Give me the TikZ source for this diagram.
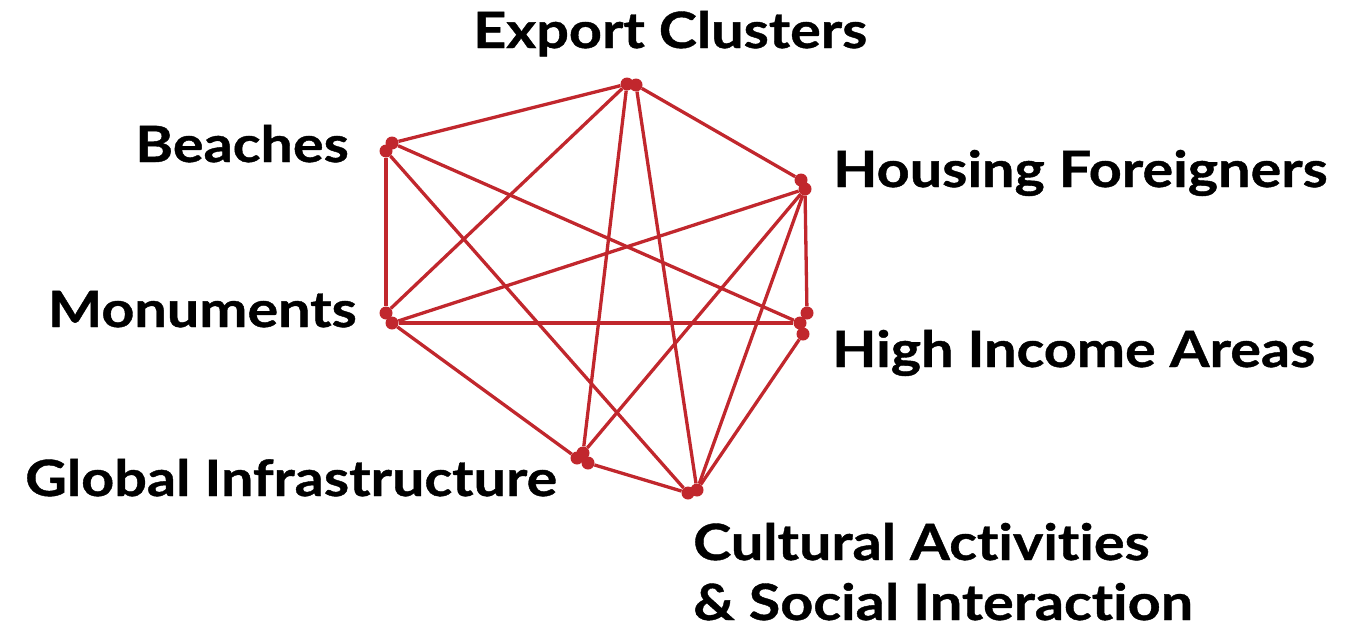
\documentclass[tikz,border=0pt]{standalone}
\usepackage{fontspec}
\setmainfont{Lato}[Ligatures=NoCommon,FakeStretch=1.15,BoldFeatures={FakeBold=0.8}]
\usepackage{tikz}
\usetikzlibrary{positioning}
\definecolor{linkred}{RGB}{193,39,45}

\begin{document}
\begin{tikzpicture}[x=1pt,y=-1pt,
	dot/.style={circle,fill=linkred,inner sep=0pt,minimum size=13pt},
	link/.style={draw=linkred,line width=3.3pt},
	lbl/.style={font=\fontsize{50}{58}\selectfont\bfseries,inner sep=0pt}]

	\useasboundingbox (0,0) rectangle (1345,632);

	% end points: every vertex is a small cluster of dots
	\node[dot] (E1) at (627,84) {};
	\node[dot] (E2) at (636,85) {};
	\node[dot] (B1) at (392,143) {};
	\node[dot] (B2) at (386,151) {};
	\node[dot] (H1) at (801,180) {};
	\node[dot] (H2) at (805,189) {};
	\node[dot] (M1) at (386,313) {};
	\node[dot] (M2) at (392,323) {};
	\node[dot] (I1) at (807,313) {};
	\node[dot] (I2) at (800,323) {};
	\node[dot] (I3) at (803,334) {};
	\node[dot] (G1) at (577,458) {};
	\node[dot] (G2) at (583,453) {};
	\node[dot] (G3) at (588,463) {};
	\node[dot] (C1) at (688,493) {};
	\node[dot] (C2) at (697,490) {};

	% labels
	\node[lbl,anchor=base west] (Exp) at (473,48) {Export Clusters};
	\node[lbl,anchor=base east] (Bea) at (349,162) {Beaches};
	\node[lbl,anchor=base west] (Hou) at (833,187) {Housing Foreigners};
	\node[lbl,anchor=base east] (Mon) at (357,327) {Monuments};
	\node[lbl,anchor=base west] (Inc) at (832,367) {High Income Areas};
	\node[lbl,anchor=base west] (Glo) at (25,496) {Global Infrastructure};
	\node[lbl,anchor=base west] (Cul) at (693,560) {Cultural Activities};
	\node[lbl,anchor=base west] (Soc) at ([yshift=-60pt]Cul.base west) {\& Social Interaction};

	%%%%%%%%%%%%%%%%%%%%%%%%%%%%%%%%%%%%%%%%%%%%%%%%%%%%%%%%%%%%%%
	% links
	\draw[link] (B1) -- (E1);
	\draw[link] (E1) -- (M1);
	\draw[link] (E1) -- (G2);
	\draw[link] (E2) -- (C2);
	\draw[link] (E2) -- (H1);
	\draw[link] (B2) -- (M1);
	\draw[link] (B2) -- (C1);
	\draw[link] (B1) -- (I2);
	\draw[link] (M2) -- (H2);
	\draw[link] (M2) -- (I2);
	\draw[link] (M2) -- (G1);
	\draw[link] (H2) -- (I1);
	\draw[link] (H2) -- (G2);
	\draw[link] (H2) -- (C2);
	\draw[link] (I3) -- (C2);
	\draw[link] (G3) -- (C1);

\end{tikzpicture}
\end{document}
